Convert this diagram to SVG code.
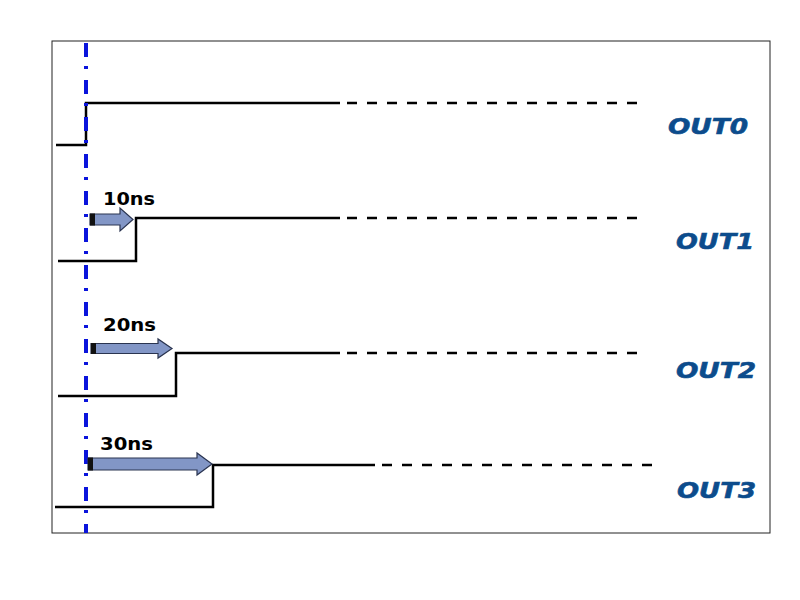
<svg xmlns="http://www.w3.org/2000/svg" width="800" height="600" viewBox="0 0 800 600">
<style>
.frame{fill:none;stroke:#222;stroke-width:1}
.sig{fill:none;stroke:#000;stroke-width:2.5}
.dash{fill:none;stroke:#000;stroke-width:2.6;stroke-dasharray:10 10}
.ref{fill:none;stroke:#0a14dc;stroke-width:4;stroke-dasharray:14 9 3 11}
.arr{fill:#8296c6;stroke:#2a3450;stroke-width:1.2}
.cap{fill:#111}
.ns{font-family:"DejaVu Sans","Liberation Sans",Arial,sans-serif;font-weight:bold;font-size:17px;fill:#000}
.out{font-family:"DejaVu Sans","Liberation Sans",Arial,sans-serif;font-weight:bold;font-style:italic;font-size:22px;fill:#0c4c8c;stroke:#0c4c8c;stroke-width:0.6}
</style>
<rect width="800" height="600" fill="#fff"/>
<rect class="frame" x="52" y="41" width="718" height="492"/>
<g id="connectors">
<path id="w0" class="sig" d="M56,145 H86 V103 H340"/>
<path class="dash" d="M347,103 H640"/>
<path id="w1" class="sig" d="M58,261 H136 V218 H340"/>
<path class="dash" d="M347,218 H640"/>
<path id="w2" class="sig" d="M58,396 H176 V353 H340"/>
<path class="dash" d="M347,353 H640"/>
<path id="w3" class="sig" d="M55,507 H213 V465 H375"/>
<path class="dash" d="M382,465 H660"/>
<line class="ref" x1="86" y1="43" x2="86" y2="533"/>
</g>
<g id="arrow1">
<path class="arr" d="M90,214 H120 V208 L133,219.5 L120,231 V225 H90 Z"/>
<rect class="cap" x="90" y="213.5" width="5" height="12"/>
<text class="ns" x="103" y="205" textLength="52" lengthAdjust="spacingAndGlyphs">10ns</text>
</g>
<g id="arrow2">
<path class="arr" d="M91,343.5 H158 V339 L172,348.5 L158,358 V353.5 H91 Z"/>
<rect class="cap" x="91" y="343" width="5" height="11"/>
<text class="ns" x="103" y="331" textLength="53" lengthAdjust="spacingAndGlyphs">20ns</text>
</g>
<g id="arrow3">
<path class="arr" d="M88,458 H197 V453 L212,464 L197,475 V470 H88 Z"/>
<rect class="cap" x="88" y="457.5" width="5" height="13"/>
<text class="ns" x="100" y="450" textLength="53" lengthAdjust="spacingAndGlyphs">30ns</text>
</g>
<g id="out0"><text class="out" x="668" y="134" textLength="80" lengthAdjust="spacingAndGlyphs">OUT0</text></g>
<g id="out1"><text class="out" x="676" y="249" textLength="78" lengthAdjust="spacingAndGlyphs">OUT1</text></g>
<g id="out2"><text class="out" x="676" y="378" textLength="80" lengthAdjust="spacingAndGlyphs">OUT2</text></g>
<g id="out3"><text class="out" x="677" y="498" textLength="79" lengthAdjust="spacingAndGlyphs">OUT3</text></g>
</svg>
